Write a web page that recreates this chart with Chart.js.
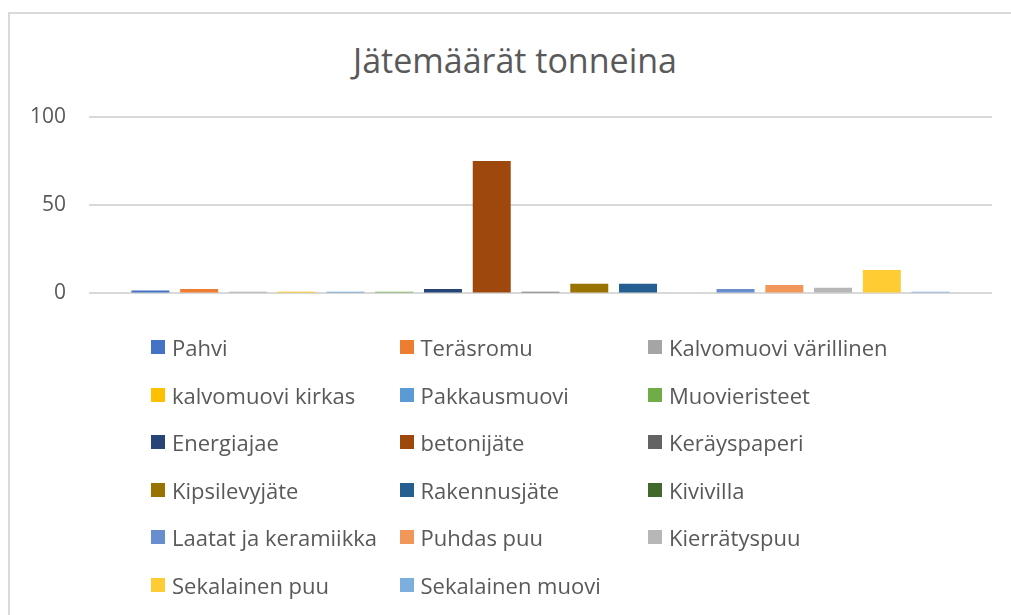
<!doctype html>
<html lang="fi">
  <head>
    <meta charset="utf-8">
    <title>Jätemäärät tonneina</title>
    <script src="https://cdn.jsdelivr.net/npm/chart.js"></script>
    <style>
      html, body { margin: 0; padding: 0; background: #fff; }
      body { width: 1011px; height: 615px; position: relative; overflow: hidden; font-family: "Open Sans", sans-serif; }
      .frame { position: absolute; left: 8px; top: 12px; width: 1020px; height: 620px; border: 2px solid #d9d9d9; box-sizing: border-box; }
      .chart-title { position: absolute; left: 415px; top: 40px; width: 200px; height: 41px; line-height: 41px; text-align: center; white-space: nowrap; font-size: 34px; color: #595959; display: flex; justify-content: center; }
      .chart-box { position: absolute; left: 0; top: 0; width: 1011px; height: 329px; }
      .legend { position: absolute; left: 0; top: 0; width: 1011px; height: 615px; pointer-events: none; }
      .legend-item { position: absolute; display: flex; align-items: center; height: 30px; font-size: 22px; color: #595959; white-space: nowrap; }
      .legend-item i { display: inline-block; width: 14px; height: 14px; margin-right: 7px; }
    </style>
  </head>
  <body>
    <div class="frame"></div>
    <div class="chart-title">Jätemäärät tonneina</div>
    <div class="chart-box"><canvas id="wasteChart"></canvas></div>
    <div class="legend" id="legend"></div>
    <script>
      // Jätelajit, määrät (t) ja värit
      const wasteTypes = ['Pahvi', 'Teräsromu', 'Kalvomuovi värillinen', 'kalvomuovi kirkas', 'Pakkausmuovi',
        'Muovieristeet', 'Energiajae', 'betonijäte', 'Keräyspaperi', 'Kipsilevyjäte', 'Rakennusjäte',
        'Kivivilla', 'Laatat ja keramiikka', 'Puhdas puu', 'Kierrätyspuu', 'Sekalainen puu', 'Sekalainen muovi'];
      const tonnes = [1.6, 2.5, 1, 1, 1, 1, 2.5, 75, 1, 5.5, 5.5, 0, 2.5, 4.8, 3.2, 13.2, 1];
      const colors = ['#4472C4', '#ED7D31', '#A5A5A5', '#FFC000', '#5B9BD5', '#70AD47', '#264478', '#9E480E',
        '#636363', '#997300', '#255E91', '#43682B', '#698ED0', '#F1975A', '#B7B7B7', '#FFCD33', '#7CAFDD'];
      const yTicks = [0, 50, 100];

      const datasets = wasteTypes.map((name, i) => ({
        label: name,
        data: [tonnes[i]],
        backgroundColor: colors[i],
        borderWidth: 0
      }));

      new Chart(document.getElementById('wasteChart'), {
        type: 'bar',
        data: { labels: [''], datasets: datasets },
        options: {
          responsive: true,
          maintainAspectRatio: false,
          animation: false,
          layout: { padding: { left: 0, right: 19, top: 117, bottom: 15 } },
          datasets: { bar: { categoryPercentage: 0.918, barPercentage: 0.779 } },
          plugins: {
            legend: { display: false },
            tooltip: { enabled: false }
          },
          scales: {
            x: { display: false },
            y: {
              min: yTicks[0],
              max: yTicks[yTicks.length - 1],
              afterFit: (s) => { s.width = 89; },
              afterBuildTicks: (s) => { s.ticks = yTicks.map(v => ({ value: v })); },
              border: { display: false },
              grid: { color: '#d9d9d9', lineWidth: 2, drawTicks: false },
              ticks: { color: '#595959', padding: 23, font: { family: 'Open Sans', size: 21 } }
            }
          }
        }
      });

      // Legenda kolmeen sarakkeeseen kuten alkuperäisessä
      const legend = document.getElementById('legend');
      wasteTypes.forEach((name, i) => {
        const col = i % 3, row = Math.floor(i / 3);
        const item = document.createElement('div');
        item.className = 'legend-item';
        item.style.left = (151 + col * 248.5) + 'px';
        item.style.top = (347 + row * 47.6 - 15) + 'px';
        const sw = document.createElement('i');
        sw.style.background = colors[i];
        item.appendChild(sw);
        item.appendChild(document.createTextNode(name));
        legend.appendChild(item);
      });
    </script>
  </body>
</html>
